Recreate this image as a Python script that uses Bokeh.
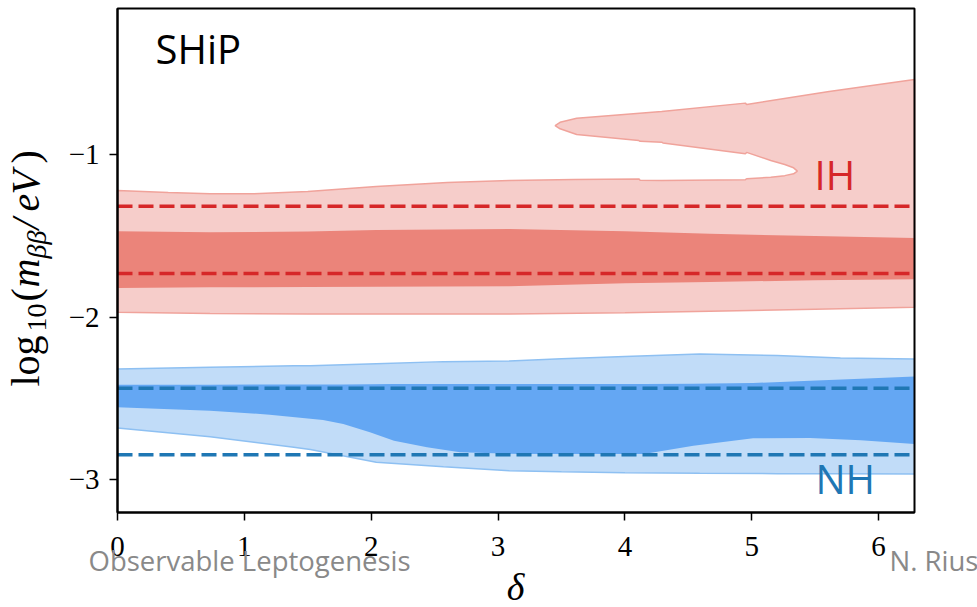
import numpy as np
from bokeh.plotting import figure
from bokeh.models import Range1d, FixedTicker, Label, CustomJSTickFormatter
from bokeh.embed import file_html
from bokeh.resources import INLINE

TWO_PI = 2 * np.pi

# ---------------- data ----------------
# IH: light (outer) region, lower boundary
ih_lo_d = [0, 0.73, 1.5, 2.04, 3.09, 4.0, 4.67, 5.5, TWO_PI]
ih_lo_v = [-1.969, -1.976, -1.979, -1.979, -1.979, -1.972, -1.962, -1.950, -1.938]
# IH: light region, upper boundary below the white pocket (delta ascending to the pocket tip)
ih_hi_d = [0, 0.4, 0.73, 1.07, 1.5, 2.04, 2.6, 3.09, 3.6, 4.11, 4.12, 4.29, 4.95, 4.96, 5.15, 5.26, 5.33, 5.36]
ih_hi_v = [-1.220, -1.232, -1.240, -1.240, -1.225, -1.195, -1.170, -1.158, -1.152, -1.148, -1.156,
           -1.158, -1.153, -1.147, -1.138, -1.128, -1.117, -1.100]
# IH: lower edge of the tongue (upper side of the white pocket)
ih_mid_d = [3.45, 3.489, 3.62, 4.11, 4.12, 4.29, 4.30, 4.95, 4.96, 5.15, 5.26, 5.33, 5.36]
ih_mid_v = [-0.820, -0.840, -0.875, -0.912, -0.917, -0.922, -0.927, -0.994, -0.985, -1.035, -1.060, -1.080, -1.100]
# IH: upper edge of the tongue up to the right border
ih_top_d = [3.45, 3.489, 3.62, 4.29, 4.95, 4.96, 5.61, TWO_PI]
ih_top_v = [-0.820, -0.800, -0.775, -0.734, -0.682, -0.690, -0.610, -0.537]
# IH: dark band
ih_dark_d = [0, 0.73, 1.5, 2.04, 3.09, 4.0, 4.67, 5.5, TWO_PI]
ih_dark_hi = [-1.470, -1.476, -1.472, -1.462, -1.456, -1.470, -1.486, -1.500, -1.511]
ih_dark_lo = [-1.819, -1.815, -1.813, -1.811, -1.808, -1.790, -1.782, -1.772, -1.765]
# IH dashed reference lines
ih_dash = [-1.316, -1.730]

# NH: light band
nh_d = [0, 0.73, 1.39, 1.52, 2.04, 2.57, 3.09, 3.5, 4.0, 4.59, 5.2, 5.7, TWO_PI]
nh_hi = [-2.317, -2.307, -2.298, -2.297, -2.285, -2.272, -2.268, -2.255, -2.240, -2.225, -2.235, -2.250, -2.256]
nh_lo = [-2.680, -2.734, -2.799, -2.812, -2.891, -2.918, -2.943, -2.950, -2.955, -2.959, -2.961, -2.962, -2.963]
# NH: dark band
nh_dark_d = [0, 0.73, 1.2, 1.62, 1.78, 1.99, 2.18, 2.44, 2.70, 3.17, 4.15, 4.54, 5.01, 5.46, 5.86, TWO_PI]
nh_dark_hi = [-2.415, -2.414, -2.413, -2.412, -2.412, -2.411, -2.410, -2.410, -2.409, -2.409, -2.410,
              -2.408, -2.404, -2.389, -2.378, -2.364]
nh_dark_lo = [-2.553, -2.574, -2.598, -2.631, -2.656, -2.707, -2.758, -2.799, -2.830, -2.840, -2.840,
              -2.789, -2.744, -2.742, -2.755, -2.778]
# NH dashed reference lines
nh_dash = [-2.436, -2.845]

x_ticks = [0, 1, 2, 3, 4, 5, 6]
y_ticks = [-3, -2, -1]

# ---------------- geometry ----------------
X0, X1 = 0, TWO_PI          # axis extent of the plot box
Y0, Y1 = -3.2, -0.1
W, H = 977, 607
BL, BR, BT, BB = 117, 63, 8, 95   # where the plot box sits on the page
BW, BH = W - BL - BR, H - BT - BB


def dx(px):
    return X0 + (px - BL) / BW * (X1 - X0)


def dy(py):
    return Y1 - (py - BT) / BH * (Y1 - Y0)


x_span = [X0, X1]

# the frame covers the whole page; axes are pinned to the plot box
p = figure(width=W, height=H, x_range=Range1d(dx(0), dx(W)), y_range=Range1d(dy(H), dy(0)),
           output_backend="svg", toolbar_location=None,
           min_border_left=0, min_border_right=0, min_border_top=0, min_border_bottom=0)
p.grid.visible = False
p.background_fill_color = "white"
p.border_fill_color = "white"
p.outline_line_color = None

fmt = CustomJSTickFormatter(code="return tick < 0 ? '\u2212' + String(Math.abs(tick)) : String(tick);")
p.xaxis.ticker = FixedTicker(ticks=x_ticks)
p.yaxis.ticker = FixedTicker(ticks=y_ticks)
p.xaxis.fixed_location = Y0
p.yaxis.fixed_location = X0
p.xaxis.bounds = (X0, X1)
p.yaxis.bounds = (Y0, Y1)
for ax in (p.xaxis[0], p.yaxis[0]):
    ax.formatter = fmt
    ax.axis_line_width = 2
    ax.major_tick_line_width = 1.5
    ax.major_tick_out = 8
    ax.major_tick_in = 0
    ax.minor_tick_out = 0
    ax.minor_tick_in = 0
    ax.major_label_text_font = "Liberation Serif"
    ax.major_label_text_font_size = "29px"
    ax.major_label_text_color = "black"
p.xaxis.major_label_standoff = 16
p.yaxis.major_label_standoff = 10

# ---------------- IH ----------------
ih_poly_x = list(ih_lo_d) + list(reversed(ih_top_d)) + list(ih_mid_d) + list(reversed(ih_hi_d))
ih_poly_y = list(ih_lo_v) + list(reversed(ih_top_v)) + list(ih_mid_v) + list(reversed(ih_hi_v))
p.patch(ih_poly_x, ih_poly_y, fill_color="#F6CDCA", line_color="#F0A39B", line_width=1.5)
p.varea(x=ih_dark_d, y1=ih_dark_lo, y2=ih_dark_hi, fill_color="#EB847A")
for v in ih_dash:
    p.line(x_span, [v, v], line_color="#D62728", line_width=3.5, line_dash="15 6")

# ---------------- NH ----------------
p.varea(x=nh_d, y1=nh_lo, y2=nh_hi, fill_color="#C1DCF8")
p.line(nh_d, nh_hi, line_color="#8EC0F2", line_width=1.5)
p.line(nh_d, nh_lo, line_color="#8EC0F2", line_width=1.5)
p.varea(x=nh_dark_d, y1=nh_dark_lo, y2=nh_dark_hi, fill_color="#64A7F3")
for v in nh_dash:
    p.line(x_span, [v, v], line_color="#1F77B4", line_width=3.5, line_dash="15 6")

# plot box (top and right sides; left/bottom are the axes)
p.quad(left=[X0], right=[X1], bottom=[Y0], top=[Y1], fill_color=None, line_color="black", line_width=2)

# ---------------- texts ----------------
SHIFT = 0.45  # measured drop of alphabetic baseline, in em


def lab(text, px, py, size, color="black", font="Open Sans", style="normal", align="left", angle=0):
    if angle == 0:
        py = py - SHIFT * size
    else:
        px = px - SHIFT * size
    p.add_layout(Label(x=dx(px), y=dy(py), text=text, text_font=font, text_font_size=f"{size}px",
                       text_color=color, text_font_style=style, text_align=align,
                       text_baseline="alphabetic", angle=angle))


lab("SHiP", 155, 66, 40)
lab("IH", 814, 192, 40, color="#D62728")
lab("NH", 815, 496, 40, color="#1F77B4")

# x axis label
lab("\u03b4", 515, 604, 38, font="Liberation Serif", style="italic", align="center")

# y axis label, built piece by piece (rotated)
ypieces = [
    ("log", 386, 40, "normal", 43),
    ("10", 331, 28, "normal", 49),
    ("(", 301, 40, "normal", 43),
    ("m", 287, 40, "italic", 43),
    ("\u03b2\u03b2", 258, 28, "italic", 49),
    ("/", 229, 40, "italic", 43),
    ("e", 211, 40, "italic", 43),
    ("V", 194, 40, "italic", 43),
    (")", 163, 40, "normal", 43),
]
for t, py, sz, st, bx in ypieces:
    lab(t, bx, py, sz, font="Liberation Serif", style=st, angle=np.pi / 2)

# slide footer texts
lab("Observable Leptogenesis", 88, 572, 27.5, color="#898989")
lab("N. Rius", 889, 572, 27.5, color="#898989")

open("out.html", "w").write(file_html(p, INLINE))
